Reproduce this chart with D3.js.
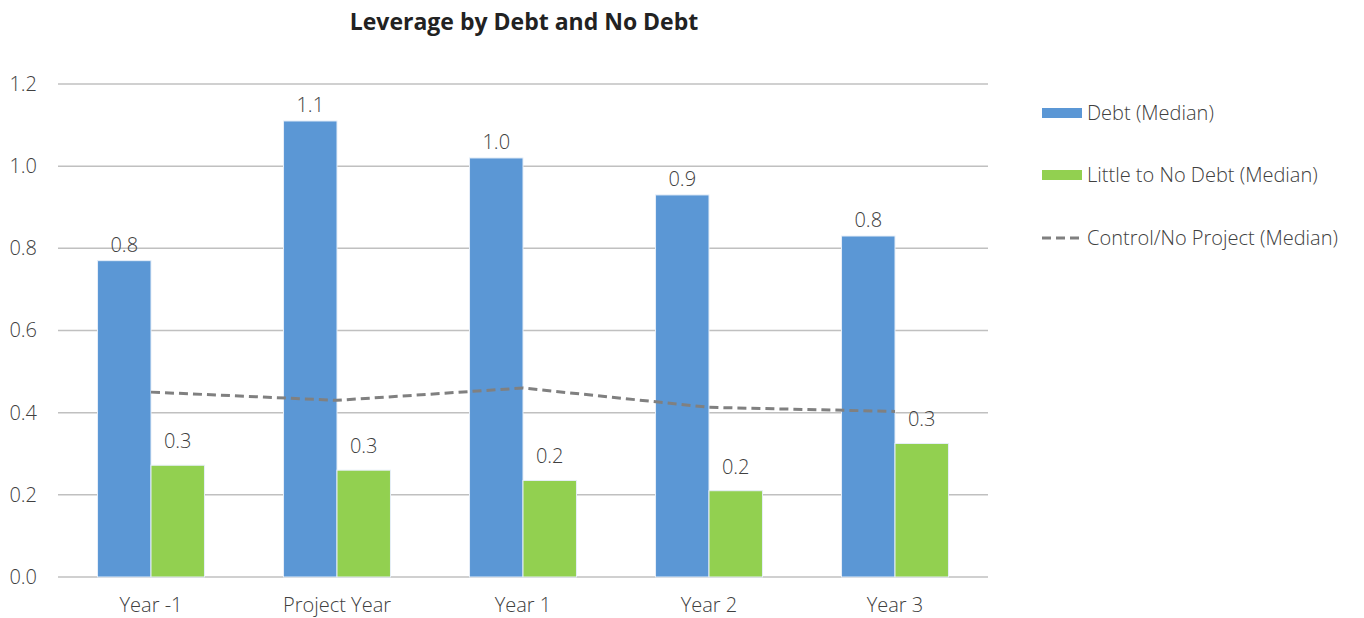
<!DOCTYPE html>
<html>
<head>
<meta charset="utf-8">
<script src="https://cdn.jsdelivr.net/npm/d3@7"></script>
<style>
  body { margin: 0; background: #fff; }
  text { font-family: "Open Sans", "Noto Sans", sans-serif; }
</style>
</head>
<body>
<div id="chart"></div>
<script>
var categories = ["Year -1", "Project Year", "Year 1", "Year 2", "Year 3"];
var debt = [0.77, 1.11, 1.02, 0.93, 0.83];
var noDebt = [0.272, 0.26, 0.235, 0.21, 0.325];
var control = [0.45, 0.43, 0.46, 0.413, 0.403];
var yTicks = [0, 0.2, 0.4, 0.6, 0.8, 1.0, 1.2];
var seriesNames = ["Debt (Median)", "Little to No Debt (Median)", "Control/No Project (Median)"];
var colors = {debt: "#5b97d5", noDebt: "#92d050", control: "#808080"};

var W = 1364, H = 618;
var plot = {L: 58, R: 988, T: 84, B: 577};

var svg = d3.select("#chart").append("svg")
  .attr("width", W)
  .attr("height", H);

svg.append("text")
  .attr("x", 524).attr("y", 30)
  .attr("text-anchor", "middle")
  .style("font-size", "23px")
  .style("font-weight", "bold")
  .style("fill", "#222")
  .text("Leverage by Debt and No Debt");

var x = d3.scaleBand()
  .domain(categories)
  .range([plot.L, plot.R])
  .paddingInner(0.425)
  .paddingOuter(0.2125);
var xs = d3.scaleBand()
  .domain(["debt", "noDebt"])
  .range([0, x.bandwidth()]);
var y = d3.scaleLinear()
  .domain([0, 1.2])
  .range([plot.B, plot.T]);

// gridlines
svg.append("g").selectAll("line").data(yTicks)
  .enter().append("line")
  .attr("x1", plot.L).attr("x2", plot.R)
  .attr("y1", function(d) {return y(d);})
  .attr("y2", function(d) {return y(d);})
  .style("stroke", "#c0c0c0")
  .style("stroke-width", 1.5);

var yAxis = d3.axisLeft(y).tickValues(yTicks).tickSize(0).tickPadding(21)
  .tickFormat(d3.format(".1f"));
var gy = svg.append("g")
  .attr("transform", "translate(" + plot.L + ",0)")
  .call(yAxis);
gy.select(".domain").remove();
gy.selectAll("text").style("font-size", "20px").style("fill", "#404040").style("font-weight", 300);

var xAxis = d3.axisBottom(x).tickSize(0).tickPadding(21);
var gx = svg.append("g")
  .attr("transform", "translate(0," + plot.B + ")")
  .call(xAxis);
gx.select(".domain").remove();
gx.selectAll("text").style("font-size", "20px").style("fill", "#404040").style("font-weight", 300);

var rows = categories.map(function(c, i) {
  return {k: c, debt: debt[i], noDebt: noDebt[i], control: control[i]};
});

["debt", "noDebt"].forEach(function(key) {
  var g = svg.append("g");
  g.selectAll("rect").data(rows)
    .enter().append("rect")
    .attr("x", function(d) {return x(d.k) + xs(key);})
    .attr("y", function(d) {return y(d[key]);})
    .attr("width", xs.bandwidth())
    .attr("height", function(d) {return y(0) - y(d[key]);})
    .style("fill", colors[key])
    .style("stroke", "#e6eef8")
    .style("stroke-width", 1);
  g.selectAll("text").data(rows)
    .enter().append("text")
    .attr("x", function(d) {return x(d.k) + xs(key) + xs.bandwidth() / 2;})
    .attr("y", function(d) {return y(d[key]) - (key == "debt" ? 9 : 17);})
    .attr("text-anchor", "middle")
    .style("font-size", "20px")
    .style("font-weight", 300)
    .style("fill", "#404040")
    .text(function(d) {return d3.format(".1f")(d[key]);});
});

var line = d3.line()
  .x(function(d) {return x(d.k) + x.bandwidth() / 2;})
  .y(function(d) {return y(d.control);});
svg.append("path")
  .datum(rows)
  .attr("d", line)
  .style("fill", "none")
  .style("stroke", colors.control)
  .style("stroke-width", 3)
  .style("stroke-dasharray", "9,5");

// legend
var legend = svg.append("g").attr("transform", "translate(1042,0)");
var legY = [113, 175, 238];
seriesNames.forEach(function(name, i) {
  if (i < 2) {
    legend.append("rect")
      .attr("x", 0).attr("y", legY[i] - 5)
      .attr("width", 40).attr("height", 10)
      .style("fill", i == 0 ? colors.debt : colors.noDebt);
  } else {
    legend.append("line")
      .attr("x1", 0).attr("x2", 40)
      .attr("y1", legY[i]).attr("y2", legY[i])
      .style("stroke", colors.control)
      .style("stroke-width", 3)
      .style("stroke-dasharray", "9,5");
  }
  legend.append("text")
    .attr("x", 45).attr("y", legY[i] + 7)
    .style("font-size", "20px")
    .style("font-weight", 300)
    .style("fill", "#404040")
    .text(name);
});
</script>
</body>
</html>
